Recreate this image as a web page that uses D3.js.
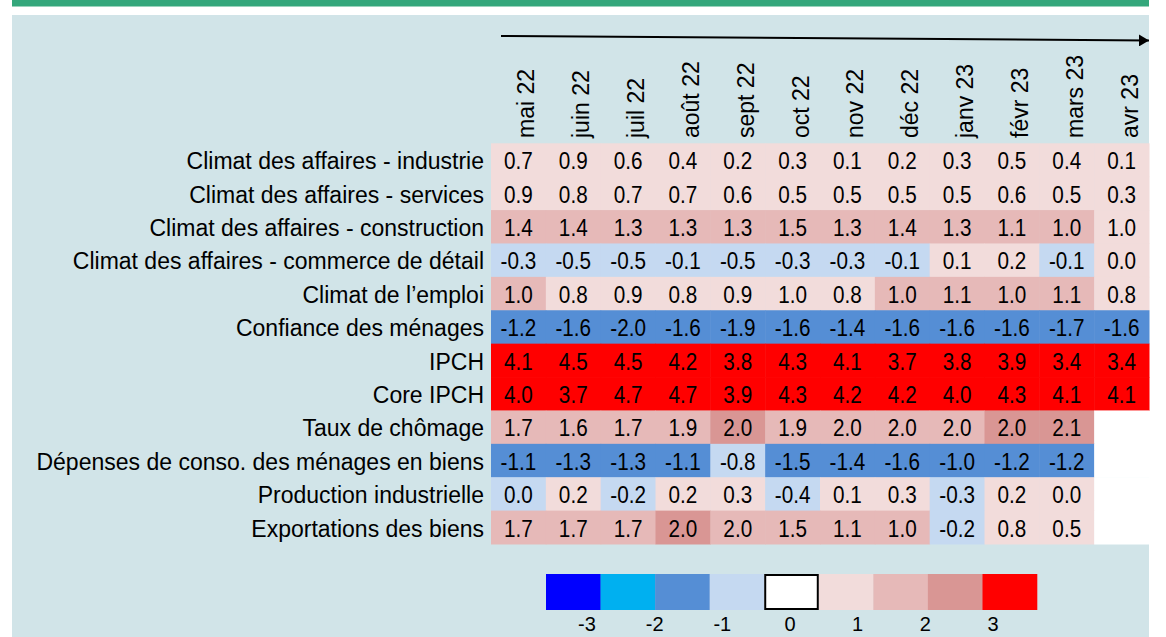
<!DOCTYPE html>
<html>
<head>
<meta charset="utf-8">
<script src="https://cdn.jsdelivr.net/npm/d3@7"></script>
<style>
  body { margin: 0; background: #fff; }
  svg { display: block; font-family: "Liberation Sans", Arial, sans-serif; }
</style>
</head>
<body>
<svg id="heat" width="1166" height="637"></svg>
<script>
const months = ["mai 22", "juin 22", "juil 22", "août 22", "sept 22", "oct 22",
                "nov 22", "déc 22", "janv 23", "févr 23", "mars 23", "avr 23"];

const indicators = [
  "Climat des affaires - industrie",
  "Climat des affaires - services",
  "Climat des affaires - construction",
  "Climat des affaires - commerce de détail",
  "Climat de l\u2019emploi",
  "Confiance des ménages",
  "IPCH",
  "Core IPCH",
  "Taux de chômage",
  "Dépenses de conso. des ménages en biens",
  "Production industrielle",
  "Exportations des biens"
];

// one row per indicator, one value per month (null = not yet published)
const industrie    = [0.7, 0.9, 0.6, 0.4, 0.2, 0.3, 0.1, 0.2, 0.3, 0.5, 0.4, 0.1];
const services     = [0.9, 0.8, 0.7, 0.7, 0.6, 0.5, 0.5, 0.5, 0.5, 0.6, 0.5, 0.3];
const construction = [1.4, 1.4, 1.3, 1.3, 1.3, 1.5, 1.3, 1.4, 1.3, 1.1, 1.01, 0.98];
const commerce     = [-0.3, -0.5, -0.5, -0.1, -0.5, -0.3, -0.3, -0.1, 0.1, 0.2, -0.1, 0.02];
const emploi       = [1.02, 0.8, 0.9, 0.8, 0.9, 0.98, 0.8, 1.03, 1.1, 1.01, 1.1, 0.8];
const confiance    = [-1.2, -1.6, -1.96, -1.6, -1.9, -1.6, -1.4, -1.6, -1.6, -1.6, -1.7, -1.6];
const ipch         = [4.1, 4.5, 4.5, 4.2, 3.8, 4.3, 4.1, 3.7, 3.8, 3.9, 3.4, 3.4];
const coreIpch     = [4.0, 3.7, 4.7, 4.7, 3.9, 4.3, 4.2, 4.2, 4.0, 4.3, 4.1, 4.1];
const chomage      = [1.7, 1.6, 1.7, 1.9, 2.02, 1.9, 1.97, 1.97, 1.97, 2.03, 2.1, null];
const depenses     = [-1.1, -1.3, -1.3, -1.1, -0.8, -1.5, -1.4, -1.6, -1.02, -1.2, -1.2, null];
const production   = [-0.02, 0.2, -0.2, 0.2, 0.3, -0.4, 0.1, 0.3, -0.3, 0.2, 0.03, null];
const exportations = [1.7, 1.7, 1.7, 2.02, 1.98, 1.5, 1.1, 1.02, -0.2, 0.8, 0.5, null];

const rows = [industrie, services, construction, commerce, emploi, confiance,
              ipch, coreIpch, chomage, depenses, production, exportations];

const thresholds = [-3, -2, -1, 0, 1, 2, 3];
const palette = ["#0000ff", "#00b0f0", "#558ed5", "#c5d9f1",
                 "#f2dcdb", "#e6b9b8", "#d99694", "#ff0000"];
const legendColors = ["#0000ff", "#00b0f0", "#558ed5", "#c5d9f1", "#ffffff",
                      "#f2dcdb", "#e6b9b8", "#d99694", "#ff0000"];
const legendTicks = [-3, -2, -1, 0, 1, 2, 3];

const svg = d3.select("#heat");

const color = d3.scaleThreshold().domain(thresholds).range(palette);
const fmt = d3.formatLocale({decimal: ".", thousands: " ", grouping: [3],
                             currency: ["", ""], minus: "-"}).format(".1f");

const x = d3.scaleBand().domain(months).range([491, 1149]);
const y = d3.scaleBand().domain(indicators).range([143.3, 544]);

// frame
svg.append("rect").attr("x", 12).attr("y", 0).attr("width", 1137).attr("height", 6.5)
    .attr("fill", "#34a77b");
svg.append("rect").attr("x", 12).attr("y", 15).attr("width", 1137).attr("height", 622)
    .attr("fill", "#d1e4e8");

// time arrow
svg.append("defs").append("marker")
    .attr("id", "head")
    .attr("viewBox", "0 0 10 12")
    .attr("refX", 10).attr("refY", 6)
    .attr("markerWidth", 5).attr("markerHeight", 6)
    .attr("orient", "auto")
  .append("path")
    .attr("d", "M0,0L10,6L0,12Z")
    .attr("fill", "#000");

svg.append("line")
    .attr("x1", 501).attr("y1", 36)
    .attr("x2", 1149).attr("y2", 40.5)
    .attr("stroke", "#000")
    .attr("stroke-width", 2)
    .attr("marker-end", "url(#head)");

// month headers
svg.append("g")
  .selectAll("text")
  .data(months)
  .join("text")
    .attr("transform", d => `translate(${x(d) + x.bandwidth() / 2 + 16},138) rotate(-90)`)
    .attr("font-size", 23)
    .attr("fill", "#000")
    .text(d => d);

// cells
const cells = [];
rows.forEach((r, i) => r.forEach((v, j) =>
  cells.push({row: indicators[i], month: months[j], value: v})));

svg.append("g")
  .selectAll("rect")
  .data(cells)
  .join("rect")
    .attr("x", d => x(d.month))
    .attr("y", d => y(d.row))
    .attr("width", x.bandwidth() + 0.5)
    .attr("height", y.bandwidth() + 0.5)
    .attr("fill", d => d.value == null ? "#ffffff" : color(d.value));

svg.append("g")
  .selectAll("text")
  .data(cells.filter(d => d.value != null))
  .join("text")
    .attr("transform", d =>
      `translate(${x(d.month) + x.bandwidth() / 2},${y(d.row) + y.bandwidth() / 2}) scale(0.9,1)`)
    .attr("dy", "0.4em")
    .attr("text-anchor", "middle")
    .attr("font-size", 23)
    .attr("fill", "#000")
    .text(d => fmt(d.value));

// row labels
svg.append("g")
  .selectAll("text")
  .data(indicators)
  .join("text")
    .attr("x", 484)
    .attr("y", d => y(d) + y.bandwidth() / 2)
    .attr("dy", "0.4em")
    .attr("text-anchor", "end")
    .attr("font-size", 23)
    .attr("fill", "#000")
    .text(d => d);

// legend
const lx = d3.scaleBand().domain(d3.range(legendColors.length)).range([546, 1037]);
svg.append("g")
  .selectAll("rect")
  .data(legendColors)
  .join("rect")
    .attr("x", (d, i) => lx(i))
    .attr("y", 574)
    .attr("width", lx.bandwidth() + 0.3)
    .attr("height", 36)
    .attr("fill", d => d);

svg.append("rect")
    .attr("x", lx(4) + 1).attr("y", 575)
    .attr("width", lx.bandwidth() - 2).attr("height", 34)
    .attr("fill", "none").attr("stroke", "#000").attr("stroke-width", 2);

const tx = d3.scaleLinear().domain([-3, 3]).range([587, 993]);
svg.append("g")
  .selectAll("text")
  .data(legendTicks)
  .join("text")
    .attr("x", d => tx(d))
    .attr("y", 631)
    .attr("text-anchor", "middle")
    .attr("font-size", 20)
    .attr("fill", "#000")
    .text(d => fmt(d).replace(".0", ""));
</script>
</body>
</html>
